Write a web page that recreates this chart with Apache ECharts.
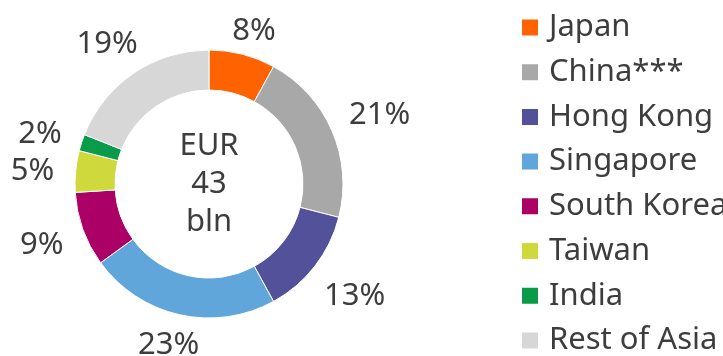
<!DOCTYPE html>
<html>
<head>
<meta charset="utf-8">
<script src="https://cdn.jsdelivr.net/npm/echarts@6/dist/echarts.min.js"></script>
<style>
  html, body { margin: 0; padding: 0; background: #ffffff; }
  #chart { width: 723px; height: 356px; }
</style>
</head>
<body>
<div id="chart"></div>
<script>
// Breakdown of exposure by region (share of total, %)
const regions = ['Japan', 'China***', 'Hong Kong', 'Singapore', 'South Korea', 'Taiwan', 'India', 'Rest of Asia'];
const shares = [8, 21, 13, 23, 9, 5, 2, 19];
const palette = ['#FF6200', '#A8A8A8', '#525199', '#60A6DA', '#AB0066', '#D0D93C', '#0A9B4A', '#D7D7D7'];
const centreLines = ['EUR', '43', 'bln'];

const FONT = '"Noto Sans", "DejaVu Sans", sans-serif';
const TEXT_COLOR = '#3d3d3d';
const CX = 209, CY = 184, R_OUT = 134, R_IN = 94;

// Mid-angle of every slice, measured clockwise from 12 o'clock
const total = shares.reduce((a, b) => a + b, 0);
const midAngles = [];
let acc = 0;
shares.forEach(v => { midAngles.push((acc + v / 2) / total * 2 * Math.PI); acc += v; });

// Put each percentage label just outside the ring, pushing the box out
// by its own half-extent along the slice direction.
const LABEL_GAP = 150;
const LABEL_HALF_H = 6;
const LABEL_SIDE_PAD = 5;
const LABEL_DY = 3;
function placeLabel(p) {
  const t = midAngles[p.dataIndex];
  const s = Math.sin(t), c = Math.cos(t);
  const w = p.labelRect.width;
  const d = LABEL_GAP + Math.abs(s) * w / 2 + Math.abs(c) * LABEL_HALF_H;
  return {
    x: CX + d * s + Math.sign(s) * LABEL_SIDE_PAD,
    y: CY - d * c + LABEL_DY,
    align: 'center',
    verticalAlign: 'middle'
  };
}

const chart = echarts.init(document.getElementById('chart'), null, { renderer: 'canvas' });
chart.setOption({
  animation: false,
  color: palette,
  legend: {
    data: regions,
    orient: 'vertical',
    left: 520,
    top: 12,
    height: 352,
    padding: 0,
    itemWidth: 18,
    itemHeight: 18,
    itemGap: 13.7,
    icon: 'rect',
    selectedMode: false,
    textStyle: {
      fontFamily: FONT,
      fontSize: 31,
      color: TEXT_COLOR,
      padding: [0, 0, 0, 5]
    }
  },
  graphic: [{
    type: 'text',
    x: CX,
    y: CY,
    silent: true,
    style: {
      text: centreLines.join('\n'),
      fontFamily: FONT,
      fontSize: 31,
      lineHeight: 38,
      fill: TEXT_COLOR,
      align: 'center',
      verticalAlign: 'middle'
    }
  }],
  series: [{
    type: 'pie',
    center: [CX, CY],
    radius: [R_IN, R_OUT],
    startAngle: 90,
    clockwise: true,
    avoidLabelOverlap: false,
    silent: true,
    itemStyle: { borderColor: '#ffffff', borderWidth: 1 },
    label: {
      show: true,
      position: 'outside',
      formatter: '{c}%',
      fontFamily: FONT,
      fontSize: 31,
      color: TEXT_COLOR
    },
    labelLine: { show: false },
    labelLayout: placeLabel,
    emphasis: { disabled: true },
    data: regions.map((name, i) => ({ name: name, value: shares[i] }))
  }]
});
</script>
</body>
</html>
